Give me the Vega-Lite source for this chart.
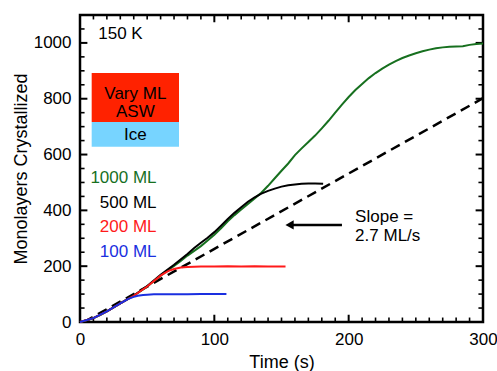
{
  "$schema": "https://vega.github.io/schema/vega-lite/v6.json",
  "autosize": "none",
  "width": 403,
  "height": 307,
  "padding": {"left": 80, "top": 15, "right": 14, "bottom": 49},
  "background": "white",
  "config": {
    "font": "Liberation Sans",
    "view": {"stroke": "black", "strokeWidth": 2.5},
    "axis": {"grid": false, "labelColor": "black", "titleColor": "black", "labelFontSize": 17, "titleFontSize": 18, "titleFontWeight": "normal", "labelFont": "Liberation Sans", "titleFont": "Liberation Sans", "format": "d", "labelFlush": false}
  },
  "datasets": {
    "curves": [
      {"series": "1000 ML", "t": 0, "y": 0}, {"series": "1000 ML", "t": 5, "y": 6}, {"series": "1000 ML", "t": 10, "y": 14}, {"series": "1000 ML", "t": 15, "y": 25}, {"series": "1000 ML", "t": 20, "y": 38}, {"series": "1000 ML", "t": 25, "y": 52}, {"series": "1000 ML", "t": 30, "y": 67}, {"series": "1000 ML", "t": 35, "y": 80}, {"series": "1000 ML", "t": 40, "y": 94}, {"series": "1000 ML", "t": 45, "y": 110}, {"series": "1000 ML", "t": 50, "y": 127}, {"series": "1000 ML", "t": 55, "y": 146}, {"series": "1000 ML", "t": 60, "y": 166}, {"series": "1000 ML", "t": 65, "y": 184}, {"series": "1000 ML", "t": 70, "y": 201}, {"series": "1000 ML", "t": 75, "y": 219}, {"series": "1000 ML", "t": 80, "y": 238}, {"series": "1000 ML", "t": 85, "y": 255}, {"series": "1000 ML", "t": 90, "y": 272}, {"series": "1000 ML", "t": 95, "y": 292}, {"series": "1000 ML", "t": 100, "y": 313}, {"series": "1000 ML", "t": 105, "y": 336}, {"series": "1000 ML", "t": 110, "y": 361}, {"series": "1000 ML", "t": 115, "y": 383}, {"series": "1000 ML", "t": 120, "y": 403}, {"series": "1000 ML", "t": 125, "y": 423}, {"series": "1000 ML", "t": 130, "y": 443}, {"series": "1000 ML", "t": 135, "y": 463}, {"series": "1000 ML", "t": 140, "y": 488}, {"series": "1000 ML", "t": 145, "y": 515}, {"series": "1000 ML", "t": 150, "y": 542}, {"series": "1000 ML", "t": 155, "y": 568}, {"series": "1000 ML", "t": 160, "y": 598}, {"series": "1000 ML", "t": 165, "y": 622}, {"series": "1000 ML", "t": 170, "y": 645}, {"series": "1000 ML", "t": 175, "y": 668}, {"series": "1000 ML", "t": 180, "y": 694}, {"series": "1000 ML", "t": 185, "y": 721}, {"series": "1000 ML", "t": 190, "y": 750}, {"series": "1000 ML", "t": 195, "y": 779}, {"series": "1000 ML", "t": 200, "y": 806}, {"series": "1000 ML", "t": 205, "y": 831}, {"series": "1000 ML", "t": 210, "y": 853}, {"series": "1000 ML", "t": 215, "y": 874}, {"series": "1000 ML", "t": 220, "y": 892}, {"series": "1000 ML", "t": 225, "y": 908}, {"series": "1000 ML", "t": 230, "y": 922}, {"series": "1000 ML", "t": 235, "y": 935}, {"series": "1000 ML", "t": 240, "y": 946}, {"series": "1000 ML", "t": 245, "y": 955}, {"series": "1000 ML", "t": 250, "y": 963}, {"series": "1000 ML", "t": 255, "y": 970}, {"series": "1000 ML", "t": 260, "y": 976}, {"series": "1000 ML", "t": 265, "y": 981}, {"series": "1000 ML", "t": 270, "y": 984}, {"series": "1000 ML", "t": 275, "y": 986}, {"series": "1000 ML", "t": 280, "y": 987}, {"series": "1000 ML", "t": 285, "y": 988}, {"series": "1000 ML", "t": 290, "y": 993}, {"series": "1000 ML", "t": 295, "y": 996}, {"series": "1000 ML", "t": 300, "y": 998},
      {"series": "500 ML", "t": 0, "y": 0}, {"series": "500 ML", "t": 10, "y": 14}, {"series": "500 ML", "t": 20, "y": 38}, {"series": "500 ML", "t": 30, "y": 67}, {"series": "500 ML", "t": 40, "y": 95}, {"series": "500 ML", "t": 50, "y": 129}, {"series": "500 ML", "t": 60, "y": 169}, {"series": "500 ML", "t": 70, "y": 205}, {"series": "500 ML", "t": 80, "y": 244}, {"series": "500 ML", "t": 85, "y": 265}, {"series": "500 ML", "t": 90, "y": 284}, {"series": "500 ML", "t": 95, "y": 302}, {"series": "500 ML", "t": 100, "y": 322}, {"series": "500 ML", "t": 105, "y": 345}, {"series": "500 ML", "t": 110, "y": 369}, {"series": "500 ML", "t": 115, "y": 391}, {"series": "500 ML", "t": 120, "y": 411}, {"series": "500 ML", "t": 125, "y": 431}, {"series": "500 ML", "t": 130, "y": 447}, {"series": "500 ML", "t": 135, "y": 460}, {"series": "500 ML", "t": 140, "y": 470}, {"series": "500 ML", "t": 145, "y": 478}, {"series": "500 ML", "t": 150, "y": 485}, {"series": "500 ML", "t": 155, "y": 490}, {"series": "500 ML", "t": 160, "y": 493}, {"series": "500 ML", "t": 165, "y": 495}, {"series": "500 ML", "t": 170, "y": 496}, {"series": "500 ML", "t": 175, "y": 496}, {"series": "500 ML", "t": 181, "y": 495},
      {"series": "200 ML", "t": 0, "y": 0}, {"series": "200 ML", "t": 10, "y": 14}, {"series": "200 ML", "t": 20, "y": 38}, {"series": "200 ML", "t": 30, "y": 67}, {"series": "200 ML", "t": 40, "y": 94}, {"series": "200 ML", "t": 50, "y": 127}, {"series": "200 ML", "t": 60, "y": 166}, {"series": "200 ML", "t": 63, "y": 175}, {"series": "200 ML", "t": 66, "y": 183}, {"series": "200 ML", "t": 70, "y": 190}, {"series": "200 ML", "t": 75, "y": 195}, {"series": "200 ML", "t": 80, "y": 197}, {"series": "200 ML", "t": 90, "y": 199}, {"series": "200 ML", "t": 100, "y": 199}, {"series": "200 ML", "t": 110, "y": 200}, {"series": "200 ML", "t": 120, "y": 199}, {"series": "200 ML", "t": 130, "y": 200}, {"series": "200 ML", "t": 140, "y": 199}, {"series": "200 ML", "t": 153, "y": 199},
      {"series": "100 ML", "t": 0, "y": 0}, {"series": "100 ML", "t": 10, "y": 14}, {"series": "100 ML", "t": 20, "y": 38}, {"series": "100 ML", "t": 30, "y": 67}, {"series": "100 ML", "t": 33, "y": 75}, {"series": "100 ML", "t": 36, "y": 83}, {"series": "100 ML", "t": 40, "y": 90}, {"series": "100 ML", "t": 43, "y": 94}, {"series": "100 ML", "t": 47, "y": 97}, {"series": "100 ML", "t": 50, "y": 98}, {"series": "100 ML", "t": 55, "y": 99}, {"series": "100 ML", "t": 60, "y": 99}, {"series": "100 ML", "t": 70, "y": 99}, {"series": "100 ML", "t": 80, "y": 99}, {"series": "100 ML", "t": 90, "y": 100}, {"series": "100 ML", "t": 100, "y": 100}, {"series": "100 ML", "t": 109, "y": 100}
    ],
    "slope": [{"t": 3, "y": 0}, {"t": 300, "y": 802}],
    "labels": [
      {"series": "1000 ML", "t": 57, "y": 499},
      {"series": "500 ML", "t": 57, "y": 410},
      {"series": "200 ML", "t": 57, "y": 321},
      {"series": "100 ML", "t": 57, "y": 233}
    ],
    "notes": [
      {"text": "150 K", "t": 13.6, "y": 1014},
      {"text": "Slope =", "t": 204.8, "y": 359},
      {"text": "2.7 ML/s", "t": 204.8, "y": 290}
    ],
    "boxtext": [
      {"text": "Vary ML", "t": 41.2, "y": 798},
      {"text": "ASW", "t": 41.2, "y": 736},
      {"text": "Ice", "t": 41.2, "y": 652}
    ],
    "boxes": [
      {"part": "ASW", "t1": 8.7, "t2": 73.7, "y1": 717, "y2": 892},
      {"part": "Ice", "t1": 8.7, "t2": 73.7, "y1": 628, "y2": 717}
    ],
    "arrow": [{"t1": 156, "t2": 195, "y": 348}],
    "xticks": [
      {"v": 10, "kind": "minor"}, {"v": 20, "kind": "minor"}, {"v": 30, "kind": "minor"}, {"v": 40, "kind": "minor"}, {"v": 50, "kind": "minor"}, {"v": 60, "kind": "minor"}, {"v": 70, "kind": "minor"}, {"v": 80, "kind": "minor"}, {"v": 90, "kind": "minor"}, {"v": 100, "kind": "major"},
      {"v": 110, "kind": "minor"}, {"v": 120, "kind": "minor"}, {"v": 130, "kind": "minor"}, {"v": 140, "kind": "minor"}, {"v": 150, "kind": "minor"}, {"v": 160, "kind": "minor"}, {"v": 170, "kind": "minor"}, {"v": 180, "kind": "minor"}, {"v": 190, "kind": "minor"}, {"v": 200, "kind": "major"},
      {"v": 210, "kind": "minor"}, {"v": 220, "kind": "minor"}, {"v": 230, "kind": "minor"}, {"v": 240, "kind": "minor"}, {"v": 250, "kind": "minor"}, {"v": 260, "kind": "minor"}, {"v": 270, "kind": "minor"}, {"v": 280, "kind": "minor"}, {"v": 290, "kind": "minor"}
    ],
    "yticks": [
      {"v": 50, "kind": "minor"}, {"v": 100, "kind": "minor"}, {"v": 150, "kind": "minor"}, {"v": 200, "kind": "major"},
      {"v": 250, "kind": "minor"}, {"v": 300, "kind": "minor"}, {"v": 350, "kind": "minor"}, {"v": 400, "kind": "major"},
      {"v": 450, "kind": "minor"}, {"v": 500, "kind": "minor"}, {"v": 550, "kind": "minor"}, {"v": 600, "kind": "major"},
      {"v": 650, "kind": "minor"}, {"v": 700, "kind": "minor"}, {"v": 750, "kind": "minor"}, {"v": 800, "kind": "major"},
      {"v": 850, "kind": "minor"}, {"v": 900, "kind": "minor"}, {"v": 950, "kind": "minor"}, {"v": 1000, "kind": "major"},
      {"v": 1050, "kind": "minor"}
    ]
  },
  "resolve": {"axis": {"x": "independent", "y": "independent"}},
  "layer": [
    {
      "data": {"name": "boxes"},
      "transform": [{"filter": "datum.part === 'ASW'"}],
      "mark": {"type": "rect", "color": "#FF2200"},
      "encoding": {
        "x": {"field": "t1", "type": "quantitative", "scale": {"domain": [0, 300], "nice": false, "zero": false}, "axis": {"orient": "bottom", "values": [0, 100, 200, 300], "domain": false, "ticks": true, "tickOpacity": 0, "offset": -7, "tickSize": 7, "labelPadding": 9, "title": "Time (s)", "titlePadding": 6}},
        "x2": {"field": "t2"},
        "y": {"field": "y1", "type": "quantitative", "scale": {"domain": [0, 1100], "nice": false, "zero": false}, "axis": {"orient": "left", "values": [0, 200, 400, 600, 800, 1000], "domain": false, "ticks": true, "tickOpacity": 0, "offset": -7, "tickSize": 7, "labelPadding": 9, "title": "Monolayers Crystallized", "titlePadding": 3}},
        "y2": {"field": "y2"}
      }
    },
    {
      "data": {"name": "boxes"},
      "transform": [{"filter": "datum.part === 'Ice'"}],
      "mark": {"type": "rect", "color": "#77D4FF"},
      "encoding": {
        "x": {"field": "t1", "type": "quantitative", "axis": null},
        "x2": {"field": "t2"},
        "y": {"field": "y1", "type": "quantitative", "axis": null},
        "y2": {"field": "y2"}
      }
    },
    {
      "data": {"name": "boxtext"},
      "mark": {"type": "text", "align": "center", "baseline": "alphabetic", "fontSize": 17, "color": "black"},
      "encoding": {
        "x": {"field": "t", "type": "quantitative", "axis": null},
        "y": {"field": "y", "type": "quantitative", "axis": null},
        "text": {"field": "text"}
      }
    },
    {
      "data": {"name": "xticks"},
      "transform": [{"filter": "datum.kind === 'major'"}],
      "mark": {"type": "rule", "color": "black", "strokeWidth": 2},
      "encoding": {
        "x": {"field": "v", "type": "quantitative", "axis": null},
        "y": {"datum": 0, "type": "quantitative", "axis": null},
        "y2": {"datum": 26}
      }
    },
    {
      "data": {"name": "xticks"},
      "transform": [{"filter": "datum.kind === 'major'"}],
      "mark": {"type": "rule", "color": "black", "strokeWidth": 2},
      "encoding": {
        "x": {"field": "v", "type": "quantitative", "axis": null},
        "y": {"datum": 1100, "type": "quantitative", "axis": null},
        "y2": {"datum": 1074}
      }
    },
    {
      "data": {"name": "xticks"},
      "transform": [{"filter": "datum.kind === 'minor'"}],
      "mark": {"type": "rule", "color": "black", "strokeWidth": 1.6},
      "encoding": {
        "x": {"field": "v", "type": "quantitative", "axis": null},
        "y": {"datum": 0, "type": "quantitative", "axis": null},
        "y2": {"datum": 16}
      }
    },
    {
      "data": {"name": "xticks"},
      "transform": [{"filter": "datum.kind === 'minor'"}],
      "mark": {"type": "rule", "color": "black", "strokeWidth": 1.6},
      "encoding": {
        "x": {"field": "v", "type": "quantitative", "axis": null},
        "y": {"datum": 1100, "type": "quantitative", "axis": null},
        "y2": {"datum": 1084}
      }
    },
    {
      "data": {"name": "yticks"},
      "transform": [{"filter": "datum.kind === 'major'"}],
      "mark": {"type": "rule", "color": "black", "strokeWidth": 2},
      "encoding": {
        "y": {"field": "v", "type": "quantitative", "axis": null},
        "x": {"datum": 0, "type": "quantitative", "axis": null},
        "x2": {"datum": 5.5}
      }
    },
    {
      "data": {"name": "yticks"},
      "transform": [{"filter": "datum.kind === 'major'"}],
      "mark": {"type": "rule", "color": "black", "strokeWidth": 2},
      "encoding": {
        "y": {"field": "v", "type": "quantitative", "axis": null},
        "x": {"datum": 300, "type": "quantitative", "axis": null},
        "x2": {"datum": 294.5}
      }
    },
    {
      "data": {"name": "yticks"},
      "transform": [{"filter": "datum.kind === 'minor'"}],
      "mark": {"type": "rule", "color": "black", "strokeWidth": 1.6},
      "encoding": {
        "y": {"field": "v", "type": "quantitative", "axis": null},
        "x": {"datum": 0, "type": "quantitative", "axis": null},
        "x2": {"datum": 3.4}
      }
    },
    {
      "data": {"name": "yticks"},
      "transform": [{"filter": "datum.kind === 'minor'"}],
      "mark": {"type": "rule", "color": "black", "strokeWidth": 1.6},
      "encoding": {
        "y": {"field": "v", "type": "quantitative", "axis": null},
        "x": {"datum": 300, "type": "quantitative", "axis": null},
        "x2": {"datum": 296.6}
      }
    },
    {
      "data": {"name": "slope"},
      "mark": {"type": "line", "color": "black", "strokeWidth": 2.5, "strokeDash": [10, 6]},
      "encoding": {
        "x": {"field": "t", "type": "quantitative", "axis": null},
        "y": {"field": "y", "type": "quantitative", "axis": null}
      }
    },
    {
      "data": {"name": "curves"},
      "mark": {"type": "line", "strokeWidth": 2},
      "encoding": {
        "x": {"field": "t", "type": "quantitative", "axis": null},
        "y": {"field": "y", "type": "quantitative", "axis": null},
        "color": {"field": "series", "type": "nominal", "scale": {"domain": ["1000 ML", "500 ML", "200 ML", "100 ML"], "range": ["#17701f", "#000000", "#ff1a1a", "#1a2fe0"]}, "legend": null},
        "order": {"field": "t", "type": "quantitative"}
      }
    },
    {
      "data": {"name": "labels"},
      "mark": {"type": "text", "align": "right", "baseline": "alphabetic", "fontSize": 17},
      "encoding": {
        "x": {"field": "t", "type": "quantitative", "axis": null},
        "y": {"field": "y", "type": "quantitative", "axis": null},
        "color": {"field": "series", "type": "nominal", "legend": null},
        "text": {"field": "series"}
      }
    },
    {
      "data": {"name": "notes"},
      "mark": {"type": "text", "align": "left", "baseline": "alphabetic", "fontSize": 17, "color": "black"},
      "encoding": {
        "x": {"field": "t", "type": "quantitative", "axis": null},
        "y": {"field": "y", "type": "quantitative", "axis": null},
        "text": {"field": "text"}
      }
    },
    {
      "data": {"name": "arrow"},
      "mark": {"type": "rule", "color": "black", "strokeWidth": 2.5},
      "encoding": {
        "x": {"field": "t1", "type": "quantitative", "axis": null},
        "x2": {"field": "t2"},
        "y": {"field": "y", "type": "quantitative", "axis": null}
      }
    },
    {
      "data": {"name": "arrow"},
      "mark": {"type": "point", "shape": "triangle-left", "filled": true, "color": "black", "size": 90, "opacity": 1},
      "encoding": {
        "x": {"field": "t1", "type": "quantitative", "axis": null},
        "y": {"field": "y", "type": "quantitative", "axis": null}
      }
    }
  ]
}
